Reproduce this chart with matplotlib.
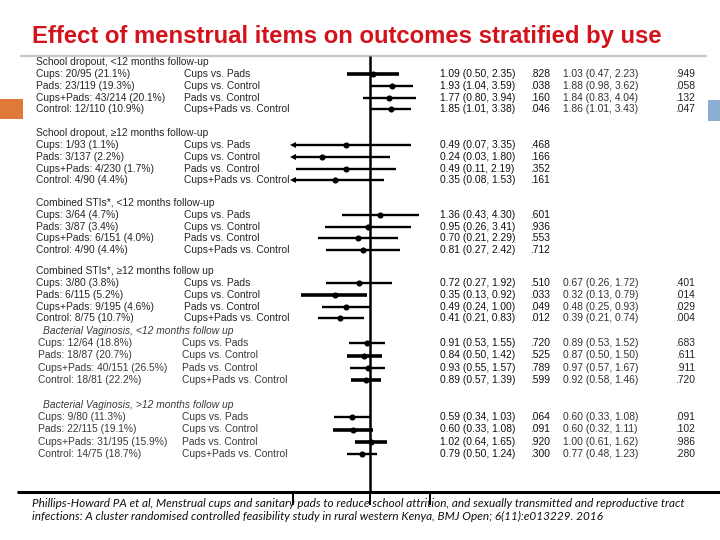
import numpy as np
import matplotlib
matplotlib.use("Agg")
import matplotlib.pyplot as plt

# ---------------- data ----------------
title = "Effect of menstrual items on outcomes stratified by use"

group_titles = [
    "School dropout, <12 months follow-up",
    "School dropout, \u226512 months follow-up",
    "Combined STIs*, <12 months follow-up",
    "Combined STIs*, \u226512 months follow up",
    "Bacterial Vaginosis, <12 months follow up",
    "Bacterial Vaginosis, >12 months follow up",
]

arm_labels = [
    ["Cups: 20/95 (21.1%)", "Pads: 23/119 (19.3%)", "Cups+Pads: 43/214 (20.1%)", "Control: 12/110 (10.9%)"],
    ["Cups: 1/93 (1.1%)", "Pads: 3/137 (2.2%)", "Cups+Pads: 4/230 (1.7%)", "Control: 4/90 (4.4%)"],
    ["Cups: 3/64 (4.7%)", "Pads: 3/87 (3.4%)", "Cups+Pads: 6/151 (4.0%)", "Control: 4/90 (4.4%)"],
    ["Cups: 3/80 (3.8%)", "Pads: 6/115 (5.2%)", "Cups+Pads: 9/195 (4.6%)", "Control: 8/75 (10.7%)"],
    ["Cups: 12/64 (18.8%)", "Pads: 18/87 (20.7%)", "Cups+Pads: 40/151 (26.5%)", "Control: 18/81 (22.2%)"],
    ["Cups: 9/80 (11.3%)", "Pads: 22/115 (19.1%)", "Cups+Pads: 31/195 (15.9%)", "Control: 14/75 (18.7%)"],
]

comparisons = ["Cups vs. Pads", "Cups vs. Control", "Pads vs. Control", "Cups+Pads vs. Control"]

est = [
    [1.09, 1.93, 1.77, 1.85],
    [0.49, 0.24, 0.49, 0.35],
    [1.36, 0.95, 0.70, 0.81],
    [0.72, 0.35, 0.49, 0.41],
    [0.91, 0.84, 0.93, 0.89],
    [0.59, 0.60, 1.02, 0.79],
]
lo = [
    [0.50, 1.04, 0.80, 1.01],
    [0.07, 0.03, 0.11, 0.08],
    [0.43, 0.26, 0.21, 0.27],
    [0.27, 0.13, 0.24, 0.21],
    [0.53, 0.50, 0.55, 0.57],
    [0.34, 0.33, 0.64, 0.50],
]
hi = [
    [2.35, 3.59, 3.94, 3.38],
    [3.35, 1.80, 2.19, 1.53],
    [4.30, 3.41, 2.29, 2.42],
    [1.92, 0.92, 1.00, 0.83],
    [1.55, 1.42, 1.57, 1.39],
    [1.03, 1.08, 1.65, 1.24],
]
pvals = [
    [".828", ".038", ".160", ".046"],
    [".468", ".166", ".352", ".161"],
    [".601", ".936", ".553", ".712"],
    [".510", ".033", ".049", ".012"],
    [".720", ".525", ".789", ".599"],
    [".064", ".091", ".920", ".300"],
]
adj_est = [
    ["1.03 (0.47, 2.23)", "1.88 (0.98, 3.62)", "1.84 (0.83, 4.04)", "1.86 (1.01, 3.43)"],
    None,
    None,
    ["0.67 (0.26, 1.72)", "0.32 (0.13, 0.79)", "0.48 (0.25, 0.93)", "0.39 (0.21, 0.74)"],
    ["0.89 (0.53, 1.52)", "0.87 (0.50, 1.50)", "0.97 (0.57, 1.67)", "0.92 (0.58, 1.46)"],
    ["0.60 (0.33, 1.08)", "0.60 (0.32, 1.11)", "1.00 (0.61, 1.62)", "0.77 (0.48, 1.23)"],
]
adj_p = [
    [".949", ".058", ".132", ".047"],
    None,
    None,
    [".401", ".014", ".029", ".004"],
    [".683", ".611", ".911", ".720"],
    [".091", ".102", ".986", ".280"],
]

axis_ticks = [0.1, 1, 6]
citation = ("Phillips-Howard PA et al, Menstrual cups and sanitary pads to reduce school attrition, and sexually transmitted and reproductive tract\n"
            "infections: A cluster randomised controlled feasibility study in rural western Kenya, BMJ Open; 6(11):e013229. 2016")

# ---------------- layout (pixels) ----------------
W, H = 720, 540
header_y = [62, 133, 202.5, 271, 331, 405]
row_step = [11.7, 11.7, 11.7, 11.7, 12.2, 12.2]
first_off = 12.3
x_ref = 370.0          # pixel of value 1
px_per_ln = 33.6       # pixels per natural-log unit
clip_low = 0.1
thick_rows = {(0, 0), (3, 1), (4, 1), (4, 3), (5, 1), (5, 2)}

fig = plt.figure(figsize=(W / 100, H / 100), dpi=100)
fig.patch.set_facecolor("white")

ax0 = fig.add_axes([0, 0, 1, 1])
ax0.set_xlim(0, W)
ax0.set_ylim(H, 0)
ax0.axis("off")

fx0, fx1, fy0, fy1 = 240, 460, 45, 510
axf = fig.add_axes([fx0 / W, (H - fy1) / H, (fx1 - fx0) / W, (fy1 - fy0) / H])
axf.set_xscale("log")
axf.set_xlim(np.exp((fx0 - x_ref) / px_per_ln), np.exp((fx1 - x_ref) / px_per_ln))
axf.set_ylim(fy1, fy0)
axf.axis("off")
axf.patch.set_alpha(0)

# title
ax0.text(32, 37, title, color="#d4121b", fontsize=17.2, fontweight="bold",
         family="Liberation Sans", va="center", ha="left")
ax0.plot([20, 707], [55.5, 55.5], color="#c8c8c8", lw=1.6, solid_capstyle="butt")

# side decorations
ax0.add_patch(plt.Rectangle((0, 99), 23, 20, color="#e07a3a", lw=0))
ax0.add_patch(plt.Rectangle((708, 100), 12, 21, color="#8caed4", lw=0))

fs = 7.4
for g in range(len(group_titles)):
    bv = g >= 4
    tcol = "#3a3a3a" if bv else "#262626"
    ax0.text(43 if bv else 36.5, header_y[g], group_titles[g], fontsize=fs,
             family="Liberation Sans", style="italic" if bv else "normal",
             color=tcol, va="center", ha="left")
    for k in range(4):
        y = header_y[g] + first_off + k * row_step[g]
        ax0.text(38 if bv else 36.5, y, arm_labels[g][k], fontsize=fs, family="Liberation Sans",
                 color=tcol, va="center", ha="left")
        ax0.text(182 if bv else 184, y, comparisons[k], fontsize=fs, family="Liberation Sans",
                 color=tcol, va="center", ha="left")
        ax0.text(440.5, y, f"{est[g][k]:.2f} ({lo[g][k]:.2f}, {hi[g][k]:.2f})", fontsize=fs,
                 family="Liberation Sans", color="#111111", va="center", ha="left")
        ax0.text(530, y, pvals[g][k], fontsize=fs, family="Liberation Sans",
                 color="#111111", va="center", ha="left")
        if adj_est[g] is not None:
            ax0.text(563, y, adj_est[g][k], fontsize=fs, family="Liberation Sans",
                     color="#333333", va="center", ha="left")
            ax0.text(695, y, adj_p[g][k], fontsize=fs, family="Liberation Sans",
                     color="#222222", va="center", ha="right")
        # forest marks
        lw = 2.6 if (g, k) in thick_rows else 1.7
        left = max(lo[g][k], clip_low)
        axf.plot([left, hi[g][k]], [y, y], color="black", lw=lw, solid_capstyle="butt")
        if lo[g][k] < clip_low:
            axf.plot([clip_low], [y], marker="<", color="black", ms=4.2, mew=0)
        axf.plot([est[g][k]], [y], marker="o", color="black", ms=4.4, mew=0)

# reference line and axis
axf.plot([1, 1], [56, 492], color="black", lw=1.8, solid_capstyle="butt")
ax0.plot([17, 720], [492, 492], color="black", lw=2.2, solid_capstyle="butt")
for t in axis_ticks:
    axf.plot([t, t], [492, 504], color="black", lw=1.4, clip_on=False)

ax0.text(32, 510, citation, fontsize=8.5, family="Lato", style="italic",
         color="#111111", va="center", ha="left", linespacing=1.25)

fig.savefig("out.png", dpi=100, facecolor="white")
